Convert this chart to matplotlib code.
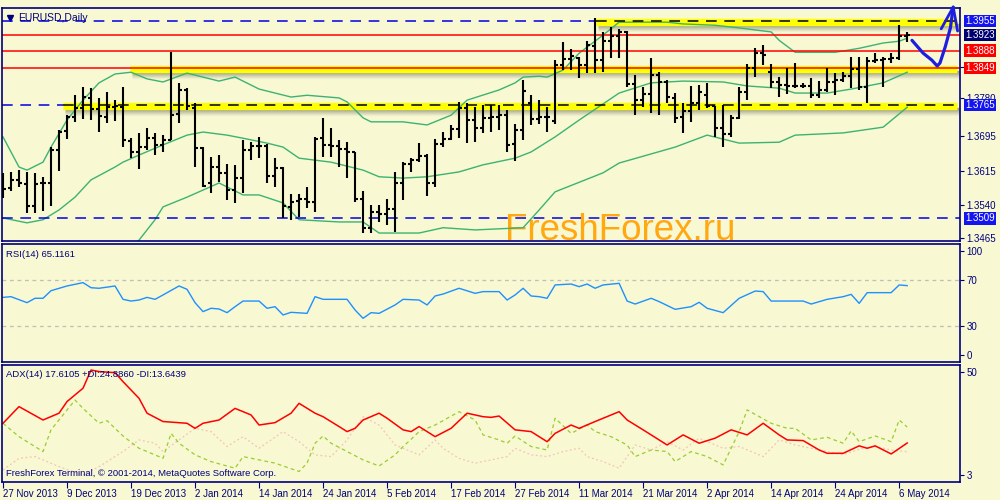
import matplotlib
matplotlib.use("Agg")
import matplotlib.pyplot as plt
import matplotlib.transforms as mtransforms
import numpy as np

plt.rcParams['font.family'] = ['Liberation Sans', 'DejaVu Sans']

BG = "#F8F8D2"
NAVY = "#00007F"

# ---------------- data ----------------
date_ticks = [0, 8, 16, 24, 32, 40, 48, 56, 64, 72, 80, 88, 96, 104, 112]
date_labels = ["27 Nov 2013", "9 Dec 2013", "19 Dec 2013", "2 Jan 2014", "14 Jan 2014",
               "24 Jan 2014", "5 Feb 2014", "17 Feb 2014", "27 Feb 2014", "11 Mar 2014",
               "21 Mar 2014", "2 Apr 2014", "14 Apr 2014", "24 Apr 2014", "6 May 2014"]

opens = [1.3582, 1.3578, 1.3596, 1.3587, 1.3538, 1.3588, 1.3590, 1.3663, 1.3706, 1.3737,
         1.3758, 1.3780, 1.3756, 1.3738, 1.3760, 1.3760, 1.3684, 1.3660, 1.3670, 1.3691,
         1.3675, 1.3686, 1.3744, 1.3799, 1.3758, 1.3668, 1.3588, 1.3626, 1.3612, 1.3573,
         1.3600, 1.3664, 1.3673, 1.3672, 1.3605, 1.3622, 1.3535, 1.3549, 1.3552, 1.3545,
         1.3690, 1.3675, 1.3673, 1.3665, 1.3658, 1.3553, 1.3487, 1.3524, 1.3518, 1.3530,
         1.3590, 1.3632, 1.3640, 1.3650, 1.3589, 1.3677, 1.3689, 1.3710, 1.3758, 1.3731,
         1.3713, 1.3735, 1.3738, 1.3742, 1.3678, 1.3709, 1.3770, 1.3734, 1.3737, 1.3730,
         1.3855, 1.3868, 1.3872, 1.3855, 1.3898, 1.3866, 1.3910, 1.3920, 1.3930, 1.3812,
         1.3776, 1.3790, 1.3833, 1.3817, 1.3781, 1.3738, 1.3752, 1.3770, 1.3787, 1.3762,
         1.3712, 1.3700, 1.3735, 1.3795, 1.3848, 1.3882, 1.3840, 1.3817, 1.3810, 1.3808,
         1.3808, 1.3808, 1.3788, 1.3800, 1.3817, 1.3822, 1.3830, 1.3846, 1.3806, 1.3865,
         1.3866, 1.3868, 1.3872, 1.3921]
highs = [1.3612, 1.3614, 1.3618, 1.3614, 1.3612, 1.3603, 1.3670, 1.3708, 1.3742, 1.3787,
         1.3805, 1.3803, 1.3781, 1.3794, 1.3776, 1.3805, 1.3690, 1.3702, 1.3713, 1.3702,
         1.3697, 1.3884, 1.3815, 1.3803, 1.3769, 1.3670, 1.3648, 1.3652, 1.3632, 1.3630,
         1.3686, 1.3681, 1.3693, 1.3677, 1.3645, 1.3625, 1.3564, 1.3564, 1.3580, 1.3693,
         1.3736, 1.3713, 1.3686, 1.3681, 1.3660, 1.3570, 1.3539, 1.3540, 1.3553, 1.3614,
         1.3636, 1.3645, 1.3679, 1.3655, 1.3688, 1.3704, 1.3720, 1.3772, 1.3769, 1.3760,
         1.3765, 1.3765, 1.3765, 1.3754, 1.3722, 1.3821, 1.3787, 1.3776, 1.3760, 1.3866,
         1.3907, 1.3891, 1.3873, 1.3910, 1.3962, 1.3930, 1.3941, 1.3937, 1.3932, 1.3833,
         1.3805, 1.3871, 1.3839, 1.3821, 1.3792, 1.3769, 1.3808, 1.3810, 1.3815, 1.3762,
         1.3765, 1.3742, 1.3805, 1.3857, 1.3893, 1.3900, 1.3858, 1.3828, 1.3848, 1.3860,
         1.3815, 1.3826, 1.3819, 1.3848, 1.3837, 1.3839, 1.3873, 1.3873, 1.3873, 1.3882,
         1.3873, 1.3882, 1.3945, 1.3930]
lows = [1.3555, 1.3570, 1.3580, 1.3521, 1.3521, 1.3525, 1.3537, 1.3616, 1.3688, 1.3727,
        1.3733, 1.3731, 1.3704, 1.3724, 1.3729, 1.3670, 1.3645, 1.3621, 1.3663, 1.3652,
        1.3659, 1.3686, 1.3724, 1.3754, 1.3625, 1.3580, 1.3566, 1.3591, 1.3551, 1.3544,
        1.3566, 1.3641, 1.3645, 1.3590, 1.3580, 1.3510, 1.3505, 1.3512, 1.3533, 1.3523,
        1.3648, 1.3648, 1.3625, 1.3600, 1.3545, 1.3475, 1.3477, 1.3501, 1.3494, 1.3479,
        1.3551, 1.3614, 1.3636, 1.3560, 1.3580, 1.3670, 1.3686, 1.3690, 1.3680, 1.3681,
        1.3702, 1.3704, 1.3709, 1.3659, 1.3638, 1.3686, 1.3720, 1.3722, 1.3704, 1.3722,
        1.3844, 1.3844, 1.3826, 1.3837, 1.3837, 1.3839, 1.3871, 1.3871, 1.3805, 1.3742,
        1.3760, 1.3747, 1.3742, 1.3769, 1.3724, 1.3702, 1.3727, 1.3754, 1.3758, 1.3693,
        1.3670, 1.3693, 1.3733, 1.3776, 1.3828, 1.3855, 1.3803, 1.3783, 1.3790, 1.3803,
        1.3803, 1.3781, 1.3781, 1.3794, 1.3787, 1.3817, 1.3803, 1.3799, 1.3769, 1.3860,
        1.3805, 1.3860, 1.3866, 1.3907]
closes = [1.3575, 1.3596, 1.3588, 1.3538, 1.3587, 1.3590, 1.3664, 1.3705, 1.3738, 1.3758,
          1.3783, 1.3756, 1.3740, 1.3760, 1.3762, 1.3686, 1.3660, 1.3670, 1.3691, 1.3675,
          1.3686, 1.3742, 1.3799, 1.3762, 1.3668, 1.3582, 1.3626, 1.3612, 1.3573, 1.3600,
          1.3663, 1.3673, 1.3672, 1.3605, 1.3622, 1.3537, 1.3547, 1.3552, 1.3545, 1.3688,
          1.3675, 1.3673, 1.3665, 1.3658, 1.3553, 1.3487, 1.3524, 1.3518, 1.3530, 1.3590,
          1.3632, 1.3640, 1.3650, 1.3590, 1.3677, 1.3689, 1.3710, 1.3758, 1.3731, 1.3713,
          1.3735, 1.3738, 1.3742, 1.3675, 1.3709, 1.3796, 1.3734, 1.3737, 1.3738, 1.3855,
          1.3868, 1.3875, 1.3855, 1.3900, 1.3866, 1.3910, 1.3920, 1.3930, 1.3812, 1.3776,
          1.3790, 1.3833, 1.3817, 1.3783, 1.3736, 1.3752, 1.3770, 1.3795, 1.3762, 1.3712,
          1.3700, 1.3735, 1.3795, 1.3848, 1.3882, 1.3878, 1.3817, 1.3810, 1.3808, 1.3808,
          1.3808, 1.3787, 1.3800, 1.3817, 1.3822, 1.3830, 1.3846, 1.3806, 1.3865, 1.3866,
          1.3868, 1.3872, 1.3921, 1.3923]

bb_upper_x = [0, 2, 3, 5, 6, 8, 10, 12, 14, 16, 18, 20, 23, 25, 27, 29, 32, 36, 38, 42, 43, 45,
              46, 50, 53, 56, 58, 62, 64, 65, 67, 68, 70, 72, 75, 77, 83, 85, 89, 92, 96, 97,
              99, 102, 104, 107, 110, 112, 113]
bb_upper = [1.3693, 1.3625, 1.3618, 1.3636, 1.3670, 1.3731, 1.3776, 1.3815, 1.3835, 1.3839,
            1.3824, 1.3817, 1.3837, 1.3828, 1.3819, 1.3828, 1.3801, 1.3783, 1.3787, 1.3781,
            1.3772, 1.3736, 1.3727, 1.3727, 1.3720, 1.3742, 1.3776, 1.3799, 1.3815, 1.3828,
            1.3830, 1.3828, 1.3844, 1.3882, 1.3923, 1.3952, 1.3952, 1.3948, 1.3945, 1.3939,
            1.3930, 1.3911, 1.3884, 1.3884, 1.3884, 1.3893, 1.3905, 1.3909, 1.3916]
bb_mid_x = [0, 3, 5, 7, 9, 11, 14, 15, 17, 20, 23, 25, 28, 30, 33, 35, 37, 41, 45, 47, 50,
            53, 57, 60, 64, 66, 69, 72, 77, 81, 85, 90, 93, 97, 99, 103, 106, 110, 113]
bb_mid = [1.3510, 1.3499, 1.3506, 1.3528, 1.3557, 1.3596, 1.3625, 1.3636, 1.3652, 1.3675,
          1.3697, 1.3704, 1.3697, 1.3690, 1.3679, 1.3670, 1.3645, 1.3636, 1.3618, 1.3603,
          1.3600, 1.3603, 1.3614, 1.3630, 1.3645, 1.3659, 1.3693, 1.3731, 1.3792, 1.3815,
          1.3819, 1.3817, 1.3808, 1.3803, 1.3792, 1.3792, 1.3801, 1.3815, 1.3839]
bb_lower_x = [0, 5, 10, 14, 17, 19, 20, 23, 27, 30, 32, 35, 37, 42, 45, 47, 52, 55, 59, 65,
              67, 69, 75, 77, 84, 88, 92, 97, 99, 105, 110, 113]
bb_lower = [1.3327, 1.3376, 1.3364, 1.3415, 1.3460, 1.3506, 1.3535, 1.3557, 1.3589, 1.3562,
            1.3562, 1.3544, 1.3506, 1.3501, 1.3501, 1.3476, 1.3476, 1.3488, 1.3483, 1.3488,
            1.3528, 1.3569, 1.3612, 1.3634, 1.3670, 1.3697, 1.3679, 1.3681, 1.3697, 1.3702,
            1.3715, 1.3760]

rsi_x = [0, 1, 3, 4, 5, 6, 8, 10, 11, 12, 14, 15, 16, 17, 18, 19, 20, 22, 23, 24, 25, 26,
         27, 28, 29, 30, 32, 33, 34, 35, 36, 38, 39, 40, 43, 44, 45, 46, 47, 49, 50, 52, 53,
         54, 55, 57, 59, 60, 62, 63, 64, 65, 66, 67, 68, 69, 71, 72, 73, 74, 75, 77, 78, 79,
         81, 82, 84, 86, 87, 88, 90, 92, 94, 95, 96, 98, 100, 101, 103, 105, 106, 107, 108,
         111, 112, 113]
rsi = [54.9, 55.5, 50.3, 54.1, 54.1, 60.7, 64.8, 67.7, 63.3, 62.8, 64.8, 53.2, 51.7, 52.6,
       54.9, 53.2, 57.0, 64.8, 61.9, 50.3, 42.5, 45.4, 44.8, 41.6, 46.8, 51.7, 51.7, 45.4,
       46.8, 39.6, 41.9, 41.0, 55.5, 53.2, 53.2, 43.9, 36.7, 41.6, 41.0, 48.3, 53.2, 52.6,
       48.3, 56.1, 57.8, 62.8, 58.4, 59.9, 59.9, 52.6, 57.0, 62.8, 56.1, 55.5, 54.1, 65.7,
       66.5, 64.2, 66.5, 62.8, 65.7, 67.1, 51.7, 49.1, 54.1, 51.2, 44.5, 46.8, 50.6, 45.4,
       41.6, 54.1, 60.4, 59.9, 51.7, 51.7, 51.7, 49.1, 53.2, 55.5, 57.5, 49.7, 59.0, 59.0,
       65.7, 65.1]

adx_x = [0, 2, 5, 7, 8, 10, 11, 12, 14, 15, 17, 18, 20, 23, 24, 25, 27, 29, 31, 32, 34, 36,
         37, 39, 40, 42, 43, 44, 45, 47, 48, 50, 51, 52, 54, 56, 58, 60, 61, 62, 64, 66, 68,
         69, 71, 72, 74, 77, 78, 80, 83, 85, 87, 89, 91, 93, 95, 97, 98, 100, 102, 103, 105,
         107, 108, 109, 111, 113]
adx = [26.6, 34.2, 28.1, 31.2, 36.5, 42.6, 50.9, 50.2, 49.7, 45.6, 38.0, 31.2, 27.4, 26.6,
       24.3, 26.6, 28.1, 33.4, 30.4, 25.8, 26.9, 31.2, 35.7, 31.2, 29.6, 25.1, 22.8, 24.3,
       28.1, 31.2, 28.9, 23.6, 22.8, 25.1, 20.5, 24.3, 31.2, 29.6, 29.3, 29.9, 23.6, 22.8,
       18.2, 22.0, 25.8, 24.3, 27.4, 31.9, 28.1, 23.6, 16.7, 21.3, 17.5, 19.8, 23.6, 21.3,
       26.6, 21.3, 19.0, 18.7, 14.4, 12.9, 12.9, 16.3, 15.2, 16.3, 12.6, 17.6]
pdi_x = [0, 2, 5, 6, 9, 10, 12, 13, 15, 17, 18, 20, 21, 22, 24, 26, 29, 30, 32, 34, 37, 38,
         39, 40, 41, 43, 45, 47, 49, 50, 51, 52, 54, 57, 59, 60, 62, 63, 64, 66, 68, 69, 71,
         73, 74, 76, 78, 79, 81, 83, 84, 86, 88, 90, 92, 93, 96, 98, 99, 101, 103, 105, 106,
         107, 109, 111, 112, 113]
pdi = [26.6, 20.5, 13.7, 23.6, 37.2, 33.4, 26.6, 27.8, 20.8, 15.2, 13.7, 10.6, 22.0, 17.5,
       12.2, 9.1, 6.1, 11.4, 9.9, 8.4, 4.6, 8.4, 17.5, 20.8, 17.5, 13.7, 9.9, 7.1, 12.2, 16.0,
       19.3, 22.8, 25.8, 31.9, 28.1, 21.3, 19.0, 17.5, 20.8, 16.0, 14.4, 28.9, 22.0, 25.8,
       22.8, 20.5, 16.7, 11.4, 14.4, 13.7, 9.1, 13.7, 11.4, 7.6, 22.8, 32.7, 26.6, 24.3, 24.3,
       19.0, 20.2, 17.5, 23.1, 18.2, 20.8, 18.2, 28.1, 24.9]
mdi_x = [0, 2, 4, 7, 10, 12, 15, 17, 19, 20, 22, 24, 26, 28, 30, 32, 35, 37, 39, 41, 43, 45,
         47, 49, 52, 54, 55, 57, 59, 61, 63, 64, 66, 68, 70, 72, 73, 75, 77, 79, 81, 83, 85,
         87, 89, 90, 92, 95, 97, 99, 101, 103, 105, 107, 109, 111, 113]
mdi = [5.3, 10.6, 11.4, 6.8, 3.0, 6.8, 13.7, 19.0, 17.5, 13.7, 19.0, 24.3, 22.8, 16.0, 20.5,
       15.2, 22.8, 18.2, 12.2, 11.4, 19.0, 29.6, 25.8, 16.7, 12.2, 19.0, 15.2, 10.6, 8.4, 9.9,
       11.4, 15.2, 12.2, 11.4, 13.7, 15.2, 11.4, 9.1, 6.1, 16.7, 14.4, 18.2, 14.4, 19.8, 16.7,
       15.2, 16.0, 11.4, 19.0, 16.7, 15.2, 13.7, 12.2, 14.7, 16.0, 14.4, 13.6]

red_levels = [1.3923, 1.3888, 1.3849]
dashed_levels = [1.3955, 1.3765, 1.3509]
band_levels = [1.3955, 1.3849, 1.3765]
band_starts = [74.1, 15.9, 7.5]
price_ticks = [1.3465, 1.3540, 1.3615, 1.3695, 1.3780, 1.3850]
price_boxes = [(1.3955, "1.3955", "#1414F0"), (1.3923, "1.3923", "#000070"),
               (1.3888, "1.3888", "#FF0000"), (1.3849, "1.3849", "#FF0000"),
               (1.3765, "1.3765", "#1414F0"), (1.3509, "1.3509", "#1414F0")]

# ---------------- figure ----------------
fig = plt.figure(figsize=(10, 5), dpi=100, facecolor=BG)
L, W = 2 / 1000, 958 / 1000
ax = fig.add_axes([L, 1 - 241 / 500, W, 233 / 500], facecolor=BG)
ax_rsi = fig.add_axes([L, 1 - 362 / 500, W, 118 / 500], facecolor=BG, sharex=ax)
ax_adx = fig.add_axes([L, 1 - 482 / 500, W, 117 / 500], facecolor=BG, sharex=ax)

XMAX = 119.6
for a in (ax, ax_rsi, ax_adx):
    for s in a.spines.values():
        s.set_color(NAVY)
        s.set_linewidth(1.2)
    a.yaxis.tick_right()
    a.tick_params(axis='y', direction='out', length=3, width=0.8, color=NAVY,
                  labelcolor=NAVY, labelsize=7, pad=1.5)
    a.tick_params(axis='x', direction='out', length=0, labelbottom=False)
ax.set_xlim(-0.125, XMAX)
ax.set_ylim(1.3458, 1.3984)
ax_rsi.set_ylim(-1.3, 101.3)
ax_adx.set_ylim(-0.2, 53.2)

n = len(closes)
xb = np.arange(n)

# yellow highlighted trend levels with soft shadow
for lvl, x0 in zip(band_levels, band_starts):
    for k, al in zip(range(3, 11), [0.42, 0.36, 0.3, 0.24, 0.18, 0.12, 0.07, 0.03]):
        tr = mtransforms.offset_copy(ax.transData, fig=fig, x=2, y=-k, units='dots')
        ax.hlines(lvl, x0, 119.25, colors='#3A3A3A', lw=1.0, alpha=al, transform=tr, zorder=1)
    tr_y = mtransforms.offset_copy(ax.transData, fig=fig, x=0, y=-1, units='dots')
    ax.hlines(lvl, x0, 119.25, colors='#FFFF00', lw=5.3, zorder=1.5, transform=tr_y)

# Bollinger bands
bb_col = '#3CB371'
ax.plot(bb_upper_x, bb_upper, color=bb_col, lw=1.0, zorder=2)
ax.plot(bb_mid_x, bb_mid, color=bb_col, lw=1.0, zorder=2)
ax.plot(bb_lower_x, bb_lower, color=bb_col, lw=1.0, zorder=2)

# red horizontal levels
for lvl in red_levels:
    ax.axhline(lvl, color='#FF0000', lw=1.1, zorder=2.2)

# dashed levels: blue outside bands, black inside
starts = {1.3955: 74.1, 1.3765: 7.5, 1.3509: None}
for lvl in dashed_levels:
    s = starts[lvl]
    if s is None:
        ax.hlines(lvl, -0.125, XMAX, colors='#0000E0', lw=1.1, linestyles=(0, (7, 5)), zorder=2.3)
    else:
        ax.hlines(lvl, -0.125, s, colors='#0000E0', lw=1.1, linestyles=(0, (7, 5)), zorder=2.3)
        ax.hlines(lvl, s, 119.25, colors='black', lw=1.1, linestyles=(0, (7, 5)), zorder=2.3)

# OHLC bars
ax.vlines(xb, lows, highs, color='black', lw=1.5, zorder=3)
ax.hlines(opens, xb - 0.4, xb, color='black', lw=1.5, zorder=3)
ax.hlines(closes, xb, xb + 0.4, color='black', lw=1.5, zorder=3)

# watermark
ax.text(0.525, 0.006, "FreshForex.ru", transform=ax.transAxes, fontsize=26.5,
        color='#FFA812', ha='left', va='baseline', zorder=0.5,
        family=['Liberation Sans', 'DejaVu Sans'])

# hand-drawn forecast arrow
ax.plot([113.6, 115.0, 116.1, 116.75, 117.1, 117.75, 118.4, 118.75],
        [1.3911, 1.3882, 1.3866, 1.3853, 1.3860, 1.3896, 1.3939, 1.3986],
        color='#1E1EE0', lw=2.3, solid_capstyle='round', solid_joinstyle='round',
        zorder=5, clip_on=False)
ax.plot([117.25, 118.75, 119.3], [1.3937, 1.3986, 1.3932], color='#1E1EE0', lw=2.0,
        solid_capstyle='round', zorder=5, clip_on=False)

# title
ax.text(0.017, 0.955, "EURUSD,Daily", transform=ax.transAxes, fontsize=7.5,
        color=NAVY, ha='left', va='center')
ax.plot([0.008], [0.955], marker='v', ms=4.5, color=NAVY, transform=ax.transAxes,
        clip_on=False)

# price axis
ax.set_yticks(price_ticks)
ax.set_yticklabels([f"{v:.4f}" for v in price_ticks])
btr = mtransforms.blended_transform_factory(ax.transAxes, ax.transData)
for v, t, c in price_boxes:
    ax.text(1.0056, v, t, transform=btr, fontsize=7, color='white', ha='left',
            va='center', clip_on=False, zorder=6,
            bbox=dict(boxstyle='square,pad=0.12', fc=c, ec='none'))

# RSI
ax_rsi.plot(rsi_x, rsi, color='#1E90FF', lw=1.0)
for lvl in (70, 30):
    ax_rsi.axhline(lvl, color='#BEBEBE', lw=0.9, linestyle=(0, (3, 3)))
ax_rsi.set_yticks([95.2, 70, 30, 4.8])
ax_rsi.set_yticklabels(['100', '70', '30', '0'])
ax_rsi.text(0.004, 0.91, "RSI(14) 65.1161", transform=ax_rsi.transAxes, fontsize=6.8,
            color=NAVY, ha='left', va='center')

# ADX
ax_adx.plot(mdi_x, mdi, color='#F4C4BA', lw=0.9, linestyle=(0, (1.5, 2)))
ax_adx.plot(pdi_x, pdi, color='#9ACD32', lw=0.9, linestyle=(0, (3, 2.5)))
ax_adx.plot(adx_x, adx, color='#FF0000', lw=1.1)
ax_adx.set_yticks([50, 3])
ax_adx.set_yticklabels(['50', '3'])
ax_adx.text(0.004, 0.915, "ADX(14) 17.6105 +DI:24.8860 -DI:13.6439", transform=ax_adx.transAxes,
            fontsize=6.8, color=NAVY, ha='left', va='center')
ax_adx.text(0.004, 0.07, "FreshForex Terminal, \u00a9 2001-2014, MetaQuotes Software Corp.",
            transform=ax_adx.transAxes, fontsize=6.8, color=NAVY, ha='left', va='center')

ax_adx.set_xticks(date_ticks)
ax_adx.set_xticklabels(date_labels, ha='left')
ax_adx.tick_params(axis='x', direction='out', length=4, width=0.8, color=NAVY,
                   labelcolor=NAVY, labelsize=7, pad=1, labelbottom=True)
ax.tick_params(axis='x', length=0, labelbottom=False)
ax_rsi.tick_params(axis='x', length=0, labelbottom=False)

fig.savefig("out.png", dpi=100, facecolor=BG)
